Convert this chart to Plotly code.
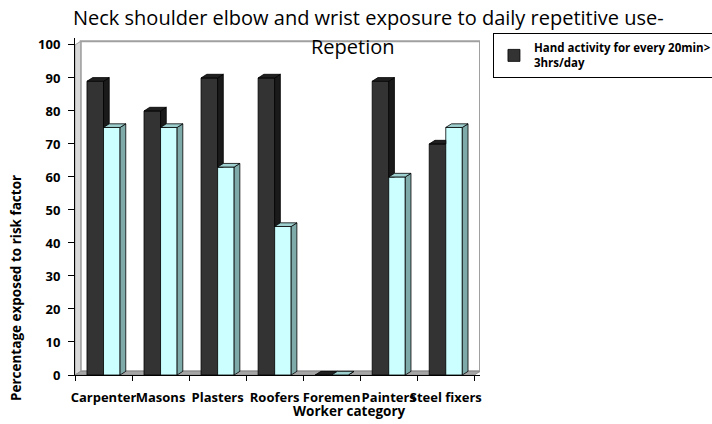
import plotly.graph_objects as go

categories = ["Carpenter", "Masons", "Plasters", "Roofers", "Foremen", "Painters", "Steel fixers"]
hand_activity = [89, 80, 90, 90, 0, 89, 70]
second_series = [75, 75, 63, 45, 0, 60, 75]
y_ticks = [0, 10, 20, 30, 40, 50, 60, 70, 80, 90, 100]
legend_name = "Hand activity for every 20min><br>3hrs/day"
title_line1 = "Neck shoulder elbow and wrist exposure to daily repetitive use-"
title_line2 = "Repetion"
y_title = "Percentage exposed to risk factor"
x_title = "Worker category"

BW = 0.29   # bar width (category units)
DX = 0.10   # depth offset x
DY = 1.1    # depth offset y

xs = list(range(len(categories)))

fig = go.Figure()
fig.add_trace(go.Bar(x=xs, y=hand_activity, name=legend_name, marker=dict(color="#333333", line=dict(color="#000000", width=0.8)),
                     width=BW, offset=-BW, showlegend=True, hoverinfo="skip"))


def poly(pts_list):
    X, Y = [], []
    for pts in pts_list:
        for (a, b) in pts:
            X.append(a); Y.append(b)
        X.append(pts[0][0]); Y.append(pts[0][1])
        X.append(None); Y.append(None)
    return X, Y


dark_side, dark_top = [], []
for i, (dv, lv) in enumerate(zip(hand_activity, second_series)):
    x0, x1 = i - BW, i
    lo = min(lv, dv)
    if dv > lv:
        dark_side.append([(x1, lo), (x1 + DX, lo), (x1 + DX, dv + DY), (x1, dv)])
    right = x1 + DX if dv >= lv else x1
    dark_top.append([(x0, dv), (x0 + DX, dv + DY), (right, dv + DY), (x1, dv)])

for pts, col in [(dark_side, "#1a1a1a"), (dark_top, "#202020")]:
    X, Y = poly(pts)
    fig.add_trace(go.Scatter(x=X, y=Y, fill="toself", fillcolor=col, mode="lines",
                             line=dict(color="#000000", width=0.8), showlegend=False, hoverinfo="skip"))

fig.add_trace(go.Bar(x=xs, y=second_series, name="Series 2", marker=dict(color="#CCFFFF", line=dict(color="#000000", width=0.8)),
                     width=BW, offset=0, showlegend=False, hoverinfo="skip"))

light_side, light_top = [], []
for i, lv in enumerate(second_series):
    x0, x1 = i, i + BW
    light_side.append([(x1, 0), (x1 + DX, DY), (x1 + DX, lv + DY), (x1, lv)])
    light_top.append([(x0, lv), (x0 + DX, lv + DY), (x1 + DX, lv + DY), (x1, lv)])

for pts, col in [(light_side, "#7FAAAA"), (light_top, "#9FD0D0")]:
    X, Y = poly(pts)
    fig.add_trace(go.Scatter(x=X, y=Y, fill="toself", fillcolor=col, mode="lines",
                             line=dict(color="#000000", width=0.8), showlegend=False, hoverinfo="skip"))

n = len(categories)
shapes = [
    dict(type="rect", xref="x", yref="y", x0=-0.5 + DX, x1=n - 0.5 + DX, y0=DY, y1=100 + DY,
         line=dict(color="#A0A0A0", width=2), fillcolor="rgba(0,0,0,0)", layer="below"),
    dict(type="path", xref="x", yref="y",
         path=f"M {-0.5} 0 L {-0.5 + DX} {DY} L {-0.5 + DX} {100 + DY} L {-0.5} 100 Z",
         line=dict(color="#A0A0A0", width=1), fillcolor="#D9D9D9", layer="below"),
    dict(type="path", xref="x", yref="y",
         path=f"M {-0.5} 0 L {-0.5 + DX} {DY} L {n - 0.5 + DX} {DY} L {n - 0.5} 0 Z",
         line=dict(color="#909090", width=1), fillcolor="#A6A6A6", layer="below"),
]

L, R, T, B = 75, 232, 38, 49
fig.update_layout(
    width=712, height=424,
    margin=dict(l=L, r=R, t=T, b=B, autoexpand=False),
    paper_bgcolor="#FFFFFF", plot_bgcolor="#FFFFFF",
    barmode="overlay",
    shapes=shapes,
    font=dict(family="Open Sans", color="#000000"),
    xaxis=dict(range=[-0.5, n - 0.5 + DX], tickvals=xs, ticktext=categories, ticks="", showline=True,
               linecolor="#000000", linewidth=1, showgrid=False, zeroline=False, tickangle=0,
               automargin=False, ticklabelstandoff=10,
               tickfont=dict(family="Open Sans", size=13, color="#000000", weight="bold"),
               minor=dict(tickvals=[i - 0.5 for i in range(n + 1)], ticks="outside", ticklen=5,
                          tickcolor="#000000", showgrid=False)),
    yaxis=dict(range=[0, 102.1], tickvals=y_ticks, ticks="outside", ticklen=6, tickcolor="#000000",
               showline=True, linecolor="#000000", linewidth=1, showgrid=False, zeroline=False,
               automargin=False, ticklabelstandoff=5,
               tickfont=dict(family="Open Sans", size=13, color="#000000", weight="bold")),
    legend=dict(x=1.032, y=1.015, xanchor="left", yanchor="top", bordercolor="#000000", borderwidth=1,
                bgcolor="#FFFFFF", font=dict(family="Open Sans", size=11.5, color="#000000", weight="bold"),
                itemwidth=30),
)

pw, ph = 712 - L - R, 424 - T - B
def px(xp): return (xp - L) / pw
def py(yp): return (424 - B - yp) / ph

def ann(text, x, y, size, bold=False, angle=0):
    f = dict(family="Open Sans", size=size, color="#000000")
    if bold:
        f["weight"] = "bold"
    fig.add_annotation(text=text, x=px(x), y=py(y), xref="paper", yref="paper", showarrow=False,
                       xanchor="center", yanchor="middle", textangle=angle, font=f)

ann(title_line1, 368, 18, 20)
ann(title_line2, 353, 46, 20)
ann(y_title, 16, 288, 13.5, bold=True, angle=-90)
ann(x_title, 349, 411, 13.5, bold=True)

fig.write_html("out.html", config={"displayModeBar": False},
               post_script="document.body.style.margin='0px';")
